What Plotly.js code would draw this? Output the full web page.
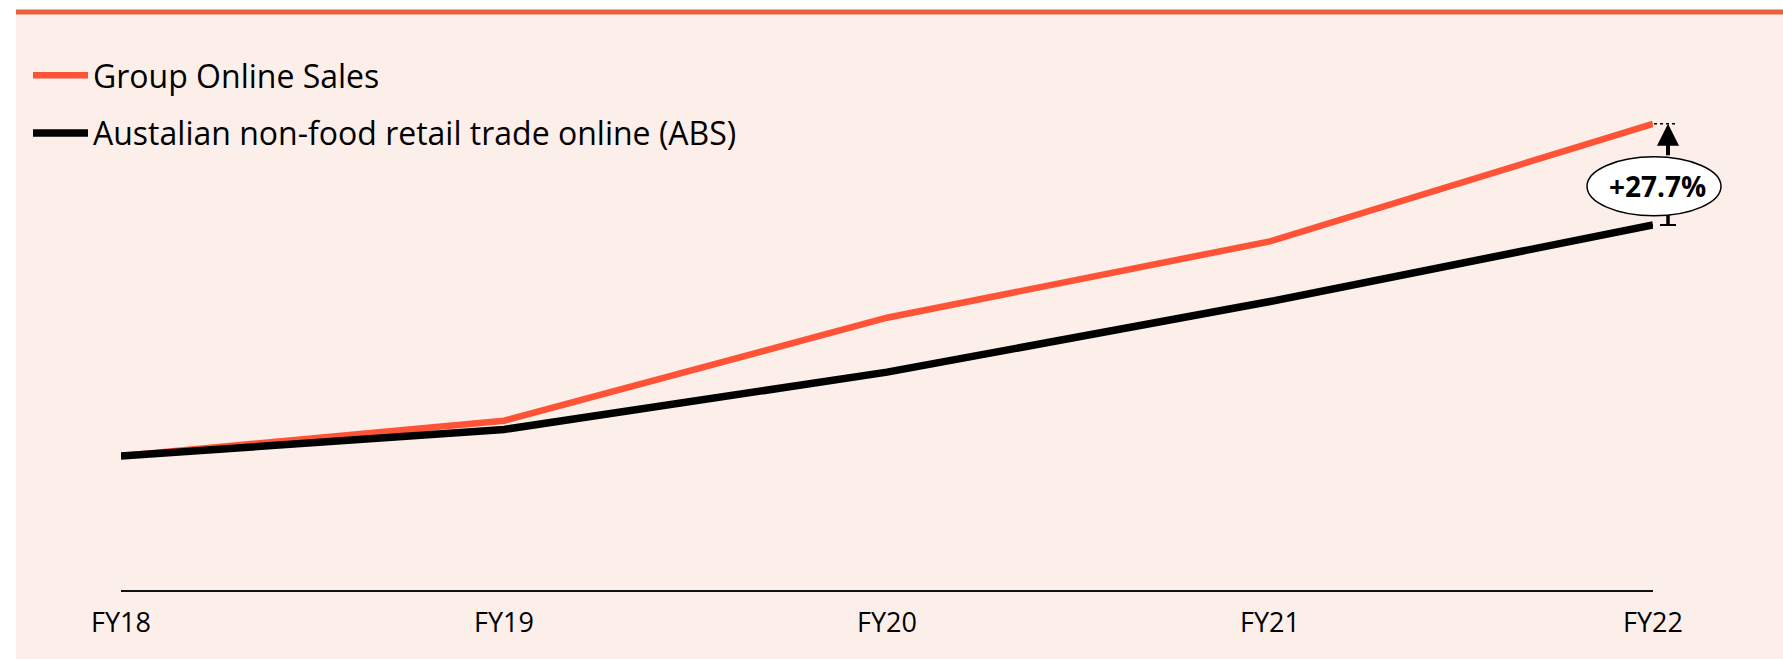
<!DOCTYPE html>
<html>
<head>
<meta charset="utf-8">
<script src="https://cdn.plot.ly/plotly-3.0.1.min.js"></script>
<style>html,body{margin:0;padding:0;background:#fff;}#chart{width:1783px;height:659px;}</style>
</head>
<body>
<div id="chart"></div>
<script>
// Data (index, FY18 = 100)
const categories = ["FY18", "FY19", "FY20", "FY21", "FY22"];
const groupOnline = [100, 126.3, 203.2, 260.2, 347.9];
const absNonFood = [100, 119.8, 162.6, 215.3, 272.4];
const seriesNames = ["Group Online Sales", "Austalian non-food retail trade online (ABS)"];
const growthLabel = "+27.7%";

const W = 1783, H = 659;
const M = {l: 121, r: 130, t: 80, b: 69};
const PW = W - M.l - M.r, PH = H - M.t - M.b;
const yMax = PH / 1.34;
const px = v => (v - M.l) / PW;           // page px -> paper x
const py = v => (H - M.b - v) / PH;       // page px -> paper y
const FONT = "Open Sans, Noto Sans, DejaVu Sans, sans-serif";

const traces = [
  {x: categories, y: groupOnline, name: seriesNames[0], type: "scatter", mode: "lines",
   line: {color: "#FF5337", width: 6.5}, legendgroup: "a", hoverinfo: "skip"},
  {x: categories, y: absNonFood, name: seriesNames[1], type: "scatter", mode: "lines",
   line: {color: "#000000", width: 7.5}, legendgroup: "b", hoverinfo: "skip"}
];

const last = categories.length - 1;
const topAnchor = groupOnline[last] / yMax;   // paper y of last Group point
const botAnchor = absNonFood[last] / yMax;    // paper y of last ABS point
const shapes = [
  // page background panel
  {type: "rect", xref: "paper", yref: "paper", x0: px(16), x1: px(W + 5), y0: py(H + 5), y1: py(12),
   fillcolor: "#FCEEE9", line: {width: 0}, layer: "below"},
  // top rule
  {type: "line", xref: "paper", yref: "paper", x0: px(16), x1: px(W + 5), y0: py(12), y1: py(12),
   line: {color: "#E8613F", width: 5}},
  // bottom stem
  {type: "line", xref: "paper", yref: "paper", xsizemode: "pixel", ysizemode: "pixel",
   xanchor: 1, yanchor: botAnchor, x0: 15, x1: 15, y0: 0, y1: 12,
   line: {color: "#000000", width: 3.5}},
  // bottom T-bar
  {type: "line", xref: "paper", yref: "paper", xsizemode: "pixel", ysizemode: "pixel",
   xanchor: 1, yanchor: botAnchor, x0: 7, x1: 23, y0: 0, y1: 0,
   line: {color: "#000000", width: 2}},
  // top dashed cap
  {type: "line", xref: "paper", yref: "paper", xsizemode: "pixel", ysizemode: "pixel",
   xanchor: 1, yanchor: topAnchor, x0: 1, x1: 25, y0: 0, y1: 0,
   line: {color: "#000000", width: 1.5, dash: "dot"}},
  // ellipse around growth label
  {type: "circle", xref: "paper", yref: "paper", xsizemode: "pixel", ysizemode: "pixel",
   xanchor: 1, yanchor: topAnchor, x0: -66, x1: 68, y0: -92, y1: -33,
   fillcolor: "#FFFFFF", line: {color: "#000000", width: 1.5}}
];

const annotations = [
  {x: categories[last], y: groupOnline[last], xref: "x", yref: "y", text: "", xshift: 15,
   showarrow: true, ax: 0, ay: 33, arrowhead: 2, arrowsize: 1.1, arrowwidth: 4, arrowcolor: "#000000", standoff: 0},
  {x: categories[last], y: groupOnline[last], xref: "x", yref: "y", text: "<b>" + growthLabel + "</b>",
   xshift: 4, yshift: -62, showarrow: false, font: {family: FONT, size: 28, color: "#000000"}}
];

const layout = {
  width: W, height: H,
  margin: M,
  paper_bgcolor: "#FFFFFF",
  plot_bgcolor: "rgba(0,0,0,0)",
  font: {family: FONT, color: "#000000"},
  showlegend: true,
  legend: {x: px(28), y: py(48), xanchor: "left", yanchor: "top", bgcolor: "rgba(0,0,0,0)",
           font: {family: FONT, size: 32, color: "#000000"}, tracegroupgap: 13, traceorder: "grouped",
           itemwidth: 55},
  xaxis: {type: "category", range: [0, last], showgrid: false, zeroline: false,
          showline: true, linecolor: "#111111", linewidth: 2, ticks: "",
          tickfont: {family: FONT, size: 27, color: "#000000"}, ticklabelstandoff: 8, fixedrange: true},
  yaxis: {range: [0, yMax], visible: false, showgrid: false, zeroline: false, fixedrange: true},
  shapes: shapes,
  annotations: annotations
};

Plotly.newPlot("chart", traces, layout, {displayModeBar: false, staticPlot: true});
</script>
</body>
</html>
